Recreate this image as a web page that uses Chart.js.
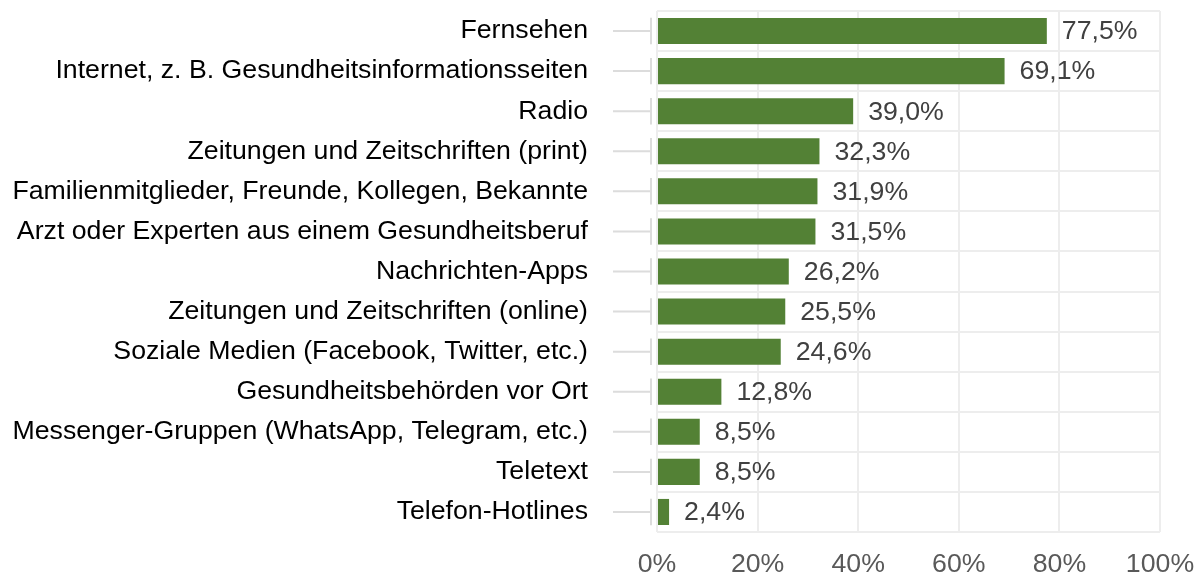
<!DOCTYPE html>
<html>
<head>
<meta charset="utf-8">
<script src="https://cdn.jsdelivr.net/npm/chart.js@4.4.0/dist/chart.umd.min.js"></script>
<style>
  html, body { margin: 0; padding: 0; background: #fff; }
  #wrap { width: 1200px; height: 576px; }
</style>
</head>
<body>
<div id="wrap"><canvas id="chart" width="1200" height="576"></canvas></div>
<script>
const categories = [
    'Fernsehen',
    'Internet, z. B. Gesundheitsinformationsseiten',
    'Radio',
    'Zeitungen und Zeitschriften (print)',
    'Familienmitglieder, Freunde, Kollegen, Bekannte',
    'Arzt oder Experten aus einem Gesundheitsberuf',
    'Nachrichten-Apps',
    'Zeitungen und Zeitschriften (online)',
    'Soziale Medien (Facebook, Twitter, etc.)',
    'Gesundheitsbehörden vor Ort',
    'Messenger-Gruppen (WhatsApp, Telegram, etc.)',
    'Teletext',
    'Telefon-Hotlines'
]
const shares = [77.5, 69.1, 39.0, 32.3, 31.9, 31.5, 26.2, 25.5, 24.6, 12.8, 8.5, 8.5, 2.4]
const xTicks = [0, 20, 40, 60, 80, 100]

const FONT = "'Liberation Sans', Arial, sans-serif"
const GRID = '#ededed'

const fmt = v => v.toFixed(1).replace('.', ',') + '%'

// Tick-Striche links der Achse (an Balkenmitte) + kurze senkrechte Segmente
const axisMarks = {
    id: 'axisMarks',
    afterDraw(chart) {
        const { ctx, chartArea, scales: { y } } = chart
        const step = y.getPixelForTick(1) - y.getPixelForTick(0)
        ctx.save()
        ctx.strokeStyle = '#dcdcdc'
        ctx.lineWidth = 2
        categories.forEach((c, i) => {
            const py = y.getPixelForTick(i)
            ctx.beginPath()
            ctx.moveTo(chartArea.left - 44, py)
            ctx.lineTo(chartArea.left - 7, py)
            ctx.moveTo(chartArea.left - 6, py - step * 0.33)
            ctx.lineTo(chartArea.left - 6, py + step * 0.33)
            ctx.stroke()
        })
        ctx.restore()
    }
}

// Werte rechts neben den Balken
const valueLabels = {
    id: 'valueLabels',
    afterDatasetsDraw(chart) {
        const { ctx } = chart
        const meta = chart.getDatasetMeta(0)
        ctx.save()
        ctx.font = '26.7px ' + FONT
        ctx.fillStyle = '#404040'
        ctx.textAlign = 'left'
        ctx.textBaseline = 'middle'
        meta.data.forEach((bar, i) => {
            ctx.fillText(fmt(shares[i]), bar.x + 15, bar.y + 1)
        })
        ctx.restore()
    }
}

new Chart(document.getElementById('chart').getContext('2d'), {
    type: 'bar',
    data: {
        labels: categories,
        datasets: [{
            data: shares,
            backgroundColor: '#538135',
            barPercentage: 0.65,
            categoryPercentage: 1
        }]
    },
    options: {
        indexAxis: 'y',
        responsive: false,
        animation: false,
        layout: { padding: { top: 11, right: 40, left: 0, bottom: 0 } },
        scales: {
            x: {
                min: 0,
                max: 100,
                afterBuildTicks: s => { s.ticks = xTicks.map(v => ({ value: v })) },
                afterFit: s => {
                    s.height = 44
                    s.paddingLeft = 0
                    s.paddingRight = 0
                },
                border: { display: false },
                grid: { color: GRID, lineWidth: 2, drawTicks: false },
                ticks: {
                    padding: 17,
                    color: '#595959',
                    font: { family: FONT, size: 26.7 },
                    callback: v => v + '%'
                }
            },
            y: {
                afterFit: s => {
                    s.width = 657
                    s.paddingTop = 0
                    s.paddingBottom = 0
                },
                border: { display: false },
                grid: {
                    color: GRID, lineWidth: 2, offset: true,
                    drawTicks: true, tickLength: 69, tickColor: 'rgba(0,0,0,0)'
                },
                ticks: {
                    padding: 0,
                    color: '#000',
                    font: { family: FONT, size: 26.7 }
                }
            }
        },
        plugins: {
            legend: { display: false },
            tooltip: { enabled: false }
        }
    },
    plugins: [axisMarks, valueLabels]
})
</script>
</body>
</html>
